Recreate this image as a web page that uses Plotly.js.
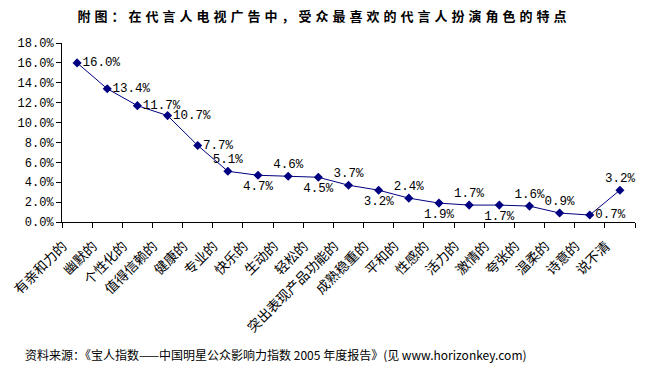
<!DOCTYPE html>
<html>
<head>
<meta charset="utf-8">
<script src="https://cdn.plot.ly/plotly-3.0.1.min.js"></script>
<style>
html,body{margin:0;padding:0;background:#fff;}
.gtitle{letter-spacing:4px;}
</style>
</head>
<body>
<div id="chart" style="width:648px;height:372px;"></div>
<script>
const categories = ["有亲和力的","幽默的","个性化的","值得信赖的","健康的","专业的","快乐的","生动的","轻松的","突出表现产品功能的","成熟稳重的","平和的","性感的","活力的","激情的","夸张的","温柔的","诗意的","说不清"];
const values = [16.0,13.4,11.7,10.7,7.7,5.1,4.7,4.6,4.5,3.7,3.2,2.4,1.9,1.7,1.7,1.6,0.9,0.7,3.2];
const yTicks = [0,2,4,6,8,10,12,14,16,18];
const yTickLabels = ["0.0%","2.0%","4.0%","6.0%","8.0%","10.0%","12.0%","14.0%","16.0%","18.0%"];
const labelPositions = ["middle right","middle right","middle right","middle right","middle right","top center","bottom center","top center","bottom center","top center","bottom center","top center","bottom center","top center","bottom center","top center","top center","middle right","top center"];

const trace = {
  x: categories,
  y: values,
  type: 'scatter',
  mode: 'lines+markers+text',
  line: {color: '#000080', width: 1},
  marker: {symbol: 'diamond', size: 7, color: '#000080'},
  text: values.map(v => v.toFixed(1) + '%'),
  textposition: labelPositions,
  textfont: {family: 'Liberation Mono, DejaVu Sans Mono, monospace', size: 12.5, color: '#000'},
  cliponaxis: false,
  hoverinfo: 'skip'
};

const layout = {
  width: 648, height: 372,
  margin: {l: 62, r: 13, t: 43, b: 150},
  paper_bgcolor: '#fff', plot_bgcolor: '#fff',
  showlegend: false,
  title: {
    text: '<b>附图：在代言人电视广告中，受众最喜欢的代言人扮演角色的特点</b>',
    font: {family: 'Noto Sans CJK SC, sans-serif', size: 13, color: '#000'},
    x: 0.5, xref: 'container', xanchor: 'center',
    y: 0.955, yref: 'container', yanchor: 'middle'
  },
  xaxis: {
    type: 'category',
    range: [-0.5, categories.length - 0.5],
    showline: true, linecolor: '#000', linewidth: 1,
    ticks: 'outside', tickson: 'boundaries', ticklen: 5, tickcolor: '#000',
    showgrid: false, zeroline: false,
    tickangle: -45,
    ticklabelstandoff: 10,
    ticklabelshift: -14,
    tickfont: {family: 'Noto Sans CJK SC, sans-serif', size: 13.5, color: '#000'},
    automargin: false, fixedrange: true
  },
  yaxis: {
    range: [0, 18],
    tickvals: yTicks, ticktext: yTickLabels,
    showline: true, linecolor: '#000', linewidth: 1,
    ticks: 'outside', ticklen: 5, tickcolor: '#000',
    showgrid: false, zeroline: false,
    tickfont: {family: 'Liberation Mono, DejaVu Sans Mono, monospace', size: 12, color: '#000'},
    automargin: false, fixedrange: true
  },
  annotations: [{
    text: '资料来源：《宝人指数——中国明星公众影响力指数 2005 年度报告》(见 www.horizonkey.com)',
    xref: 'paper', yref: 'paper',
    x: -0.068, y: -0.743, xanchor: 'left', yanchor: 'middle',
    showarrow: false,
    font: {family: 'Noto Sans CJK SC, sans-serif', size: 12, color: '#000'}
  }]
};

Plotly.newPlot('chart', [trace], layout, {displayModeBar: false, staticPlot: true});
</script>
</body>
</html>
